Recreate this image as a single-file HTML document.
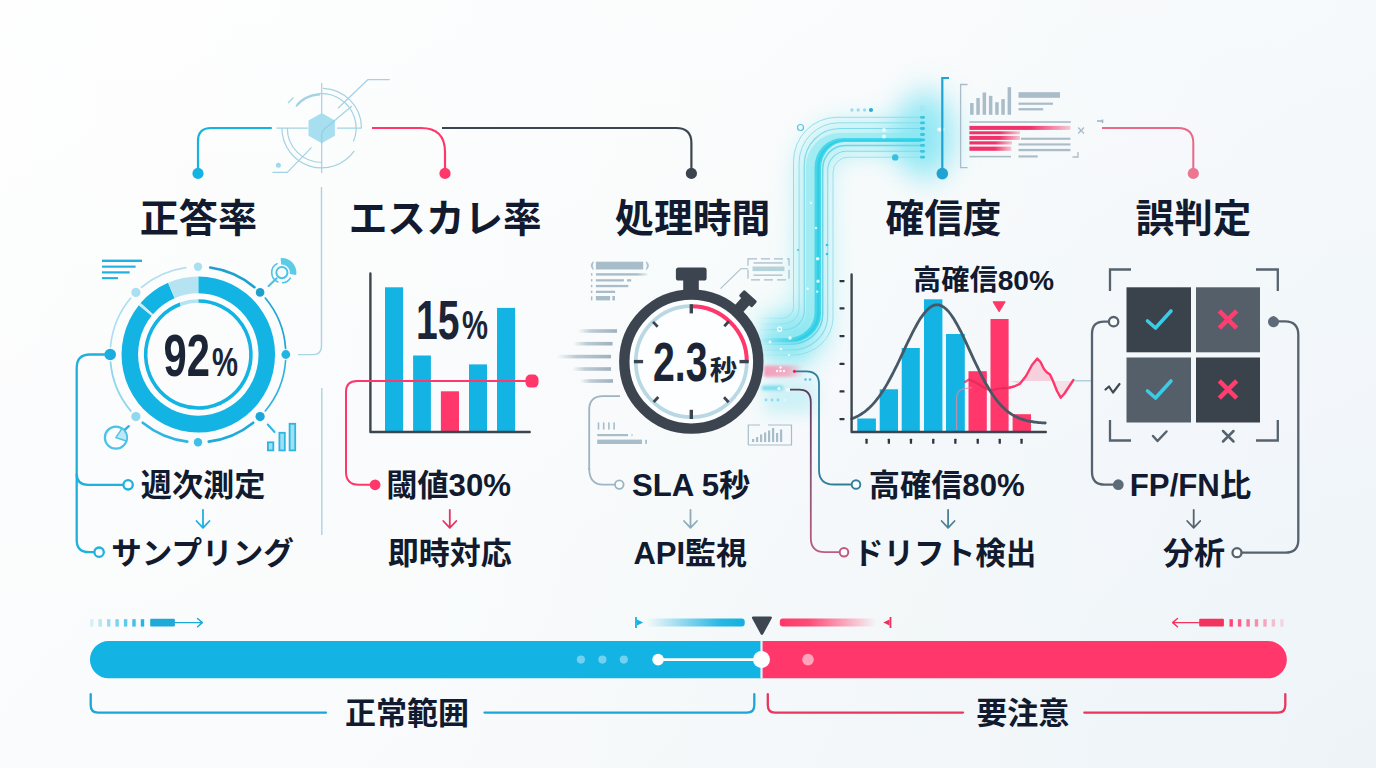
<!DOCTYPE html>
<html lang="ja"><head><meta charset="utf-8"><title>AI品質指標</title>
<style>
html,body{margin:0;padding:0;background:#f6f8fa;}
body{width:1376px;height:768px;overflow:hidden;font-family:"Liberation Sans","Noto Sans CJK JP",sans-serif;}
svg{display:block;}
text{font-family:"Liberation Sans","Noto Sans CJK JP",sans-serif;font-weight:bold;}
</style></head><body>
<svg width="1376" height="768" viewBox="0 0 1376 768">
<defs>
<linearGradient id="bg" gradientUnits="userSpaceOnUse" x1="0" y1="0" x2="1376" y2="0"><stop offset="0" stop-color="#fefefe"/><stop offset="0.3" stop-color="#fcfdfd"/><stop offset="1" stop-color="#f7fafc"/></linearGradient>
<linearGradient id="bg2" gradientUnits="userSpaceOnUse" x1="0" y1="0" x2="0" y2="768"><stop offset="0" stop-color="#c3d7e6" stop-opacity="0"/><stop offset="1" stop-color="#c3d7e6" stop-opacity="0.07"/></linearGradient>
<radialGradient id="bg3" gradientUnits="userSpaceOnUse" cx="1376" cy="768" r="950"><stop offset="0" stop-color="#c8dce8" stop-opacity="0.14"/><stop offset="1" stop-color="#c8dce8" stop-opacity="0"/></radialGradient>
<filter id="b4" x="-50%" y="-50%" width="200%" height="200%"><feGaussianBlur stdDeviation="4"/></filter>
<filter id="b8" x="-50%" y="-50%" width="200%" height="200%"><feGaussianBlur stdDeviation="8"/></filter>
<filter id="b14" x="-50%" y="-50%" width="200%" height="200%"><feGaussianBlur stdDeviation="14"/></filter>
<filter id="b1" x="-100%" y="-100%" width="300%" height="300%"><feGaussianBlur stdDeviation="0.6"/></filter>
<filter id="b2" x="-50%" y="-50%" width="200%" height="200%"><feGaussianBlur stdDeviation="1.5"/></filter>
<linearGradient id="gcy" x1="0" x2="1"><stop offset="0" stop-color="#13b0e0" stop-opacity="0"/><stop offset="0.75" stop-color="#13b0e0" stop-opacity="0.9"/><stop offset="1" stop-color="#13b0e0"/></linearGradient>
<linearGradient id="gpk" x1="0" x2="1"><stop offset="0" stop-color="#ff3868"/><stop offset="0.3" stop-color="#ff3868" stop-opacity="0.9"/><stop offset="1" stop-color="#ff3868" stop-opacity="0"/></linearGradient>
<linearGradient id="gsp" x1="0" x2="1"><stop offset="0" stop-color="#a3b6c2" stop-opacity="0"/><stop offset="0.35" stop-color="#a3b6c2" stop-opacity="0.7"/><stop offset="1" stop-color="#9db1be"/></linearGradient>
<linearGradient id="gpk2" x1="0" x2="1"><stop offset="0" stop-color="#f0326a"/><stop offset="0.6" stop-color="#f0326a"/><stop offset="1" stop-color="#f0326a" stop-opacity="0.25"/></linearGradient>
<linearGradient id="gpur" x1="0" y1="0" x2="0" y2="1"><stop offset="0" stop-color="#5b3a5e"/><stop offset="0.55" stop-color="#8a5878"/><stop offset="1" stop-color="#bf5a80"/></linearGradient>
<linearGradient id="gmask" gradientUnits="userSpaceOnUse" x1="758" y1="0" x2="800" y2="0"><stop offset="0" stop-color="#000"/><stop offset="1" stop-color="#000" stop-opacity="0"/></linearGradient>
</defs>
<rect width="1376" height="768" fill="url(#bg)"/><rect width="1376" height="768" fill="url(#bg2)"/><rect width="1376" height="768" fill="url(#bg3)"/>
<g id="flow">
<g filter="url(#b14)" opacity="0.55">
<path d="M775 338H795Q813 338 813 320V175Q813 138 850 138H925" stroke="#5fe3ee" stroke-width="26" fill="none" />
</g>
<ellipse cx="925" cy="135" rx="30" ry="45" fill="#4fdcf0" opacity="0.55" filter="url(#b14)"/>
<ellipse cx="790" cy="338" rx="30" ry="28" fill="#6fe3f2" opacity="0.5" filter="url(#b14)"/>
<rect x="764" y="320" width="40" height="42" fill="#7fe3ee" opacity="0.4" filter="url(#b8)"/>
<rect x="764" y="380" width="52" height="34" fill="#8fe6f0" opacity="0.4" filter="url(#b8)"/>
<mask id="mflow" maskUnits="userSpaceOnUse" x="740" y="90" width="220" height="300"><rect x="740" y="90" width="220" height="300" fill="#fff"/><rect x="740" y="300" width="62" height="70" fill="url(#gmask)"/></mask>
<g mask="url(#mflow)">
<path d="M752 334.0H785.3A20.7 22.3 0 0 0 806.0 311.7V165.7A34.4 32.6 0 0 1 840.4 133.1H921L921 138.0H842.8A28.3 29.0 0 0 0 814.5 167.0V312.8A26.8 25.2 0 0 1 787.7 338.0H752Z" fill="#8ee6f1" opacity="0.62"/>
<path d="M752 338.0H787.7A26.8 25.2 0 0 0 814.5 312.8V167.0A28.3 29.0 0 0 1 842.8 138.0H921L921 141.9H844.7A23.6 26.2 0 0 0 821.1 168.1V314.1A31.6 28.5 0 0 1 789.5 342.6H752Z" fill="#33d1e6" opacity="0.85"/>
<path d="M752 339.8H788.4A28.6 26.5 0 0 0 817.0 313.3V167.5A26.5 27.7 0 0 1 843.5 139.8H921L921 141.1H844.2A24.7 26.7 0 0 0 819.5 167.9V313.8A30.4 27.8 0 0 1 789.1 341.6H752Z" fill="#1fc8e2" opacity="0.55"/>
<path d="M752 318.3H781.8A11.7 11.0 0 0 0 793.5 307.3V161.5A43.4 44.2 0 0 1 836.9 117.3H921" stroke="#86d9e8" stroke-width="1" fill="none" opacity="0.85"/>
<path d="M752 324.0H783.3A15.8 15.1 0 0 0 799.1 308.9V162.9A39.4 40.1 0 0 1 838.5 122.8H921" stroke="#86d9e8" stroke-width="1" fill="none" opacity="0.85"/>
<path d="M752 329.7H784.8A19.5 19.2 0 0 0 804.3 310.5V164.5A35.7 36.0 0 0 1 840.0 128.5H921" stroke="#7ad6e8" stroke-width="1.2" fill="none" opacity="0.9"/>
<path d="M752 344.3H790.0A32.7 29.7 0 0 0 822.7 314.6V169.0A22.4 23.6 0 0 1 845.1 145.4H921" stroke="#5fd0e6" stroke-width="1.5" fill="none" opacity="0.85"/>
<path d="M752 350.0H791.4A36.3 33.8 0 0 0 827.7 316.2V170.6A18.8 19.3 0 0 1 846.5 151.3H921" stroke="#7ad6e8" stroke-width="1.1" fill="none" opacity="0.85"/>
<path d="M752 355.0H792.8A40.2 37.4 0 0 0 833.0 317.6V172.2A15.0 15.0 0 0 1 848.0 157.2H921" stroke="#8fdcea" stroke-width="1" fill="none" opacity="0.85"/>
</g>
<rect x="920.0" y="115.9" width="5.0" height="2.8" fill="#35c3de" rx="1.4" opacity="0.95"/>
<rect x="920.0" y="121.4" width="5.0" height="2.8" fill="#35c3de" rx="1.4" opacity="0.95"/>
<rect x="920.0" y="127.1" width="5.0" height="2.8" fill="#35c3de" rx="1.4" opacity="0.95"/>
<rect x="920.0" y="133.1" width="5.0" height="2.8" fill="#35c3de" rx="1.4" opacity="0.95"/>
<rect x="920.0" y="138.5" width="5.0" height="2.8" fill="#35c3de" rx="1.4" opacity="0.95"/>
<rect x="920.0" y="144.0" width="5.0" height="2.8" fill="#35c3de" rx="1.4" opacity="0.95"/>
<rect x="920.0" y="149.9" width="5.0" height="2.8" fill="#35c3de" rx="1.4" opacity="0.95"/>
<rect x="920.0" y="155.8" width="5.0" height="2.8" fill="#35c3de" rx="1.4" opacity="0.95"/>
<rect x="920.0" y="105.5" width="5.0" height="6.0" fill="#9fe3f2" rx="0" opacity="0.45"/>
<circle cx="851.9" cy="110" r="1.7" fill="#8fd6e8" stroke="none" stroke-width="0" opacity="0.85"/>
<circle cx="858.2" cy="110" r="1.7" fill="#8fd6e8" stroke="none" stroke-width="0" opacity="0.85"/>
<circle cx="864.6" cy="110" r="1.7" fill="#8fd6e8" stroke="none" stroke-width="0" opacity="0.85"/>
<circle cx="871" cy="110" r="2.1" fill="#2badd0" stroke="none" stroke-width="0" />
<circle cx="800.5" cy="127.5" r="3" fill="none" stroke="#5cc3e2" stroke-width="1.2" />
<circle cx="895.2" cy="157.4" r="3.2" fill="#35bfe0" stroke="none" stroke-width="0" />
<circle cx="884" cy="130" r="2" fill="#e8fbff" stroke="none" stroke-width="0" />
<circle cx="884" cy="136.5" r="2" fill="#e8fbff" stroke="none" stroke-width="0" />
<circle cx="827" cy="245" r="1.3" fill="#3fc0e2" stroke="none" stroke-width="0" />
<circle cx="827" cy="254" r="1.3" fill="#3fc0e2" stroke="none" stroke-width="0" />
<circle cx="798" cy="250" r="1" fill="#3fc0e2" stroke="none" stroke-width="0" />
<linearGradient id="gpb" x1="0" x2="1"><stop offset="0" stop-color="#f78fae"/><stop offset="0.6" stop-color="#f78fae" stop-opacity="0.8"/><stop offset="1" stop-color="#f78fae" stop-opacity="0"/></linearGradient>
<rect x="764.0" y="365.5" width="40.0" height="11.5" fill="url(#gpb)" rx="2" opacity="0.85" filter="url(#b2)"/>
<rect x="762.0" y="385.8" width="21.0" height="4.4" fill="#5fd5ea" rx="1" opacity="0.8" filter="url(#b2)"/>
<circle cx="777" cy="371" r="1.2" fill="#fff" stroke="none" stroke-width="0" opacity="0.9"/>
<circle cx="780.5" cy="371" r="1.2" fill="#fff" stroke="none" stroke-width="0" opacity="0.9"/>
<circle cx="784" cy="371" r="1.2" fill="#fff" stroke="none" stroke-width="0" opacity="0.9"/>
<circle cx="780.5" cy="367.5" r="1.2" fill="#fff" stroke="none" stroke-width="0" opacity="0.9"/>
<circle cx="805.5" cy="379.5" r="1.3" fill="#4fcbe6" stroke="none" stroke-width="0" />
<circle cx="810" cy="379.5" r="1.3" fill="#4fcbe6" stroke="none" stroke-width="0" />
<circle cx="766" cy="400" r="1.4" fill="#6fd8ec" stroke="none" stroke-width="0" opacity="0.8"/>
<circle cx="772" cy="400" r="1.4" fill="#6fd8ec" stroke="none" stroke-width="0" opacity="0.8"/>
<circle cx="778" cy="400" r="1.4" fill="#6fd8ec" stroke="none" stroke-width="0" opacity="0.8"/>
<circle cx="785" cy="400" r="1.8" fill="#d9f6fb" stroke="none" stroke-width="0" />
<circle cx="779" cy="388.5" r="1.6" fill="#fff" stroke="none" stroke-width="0" />
<circle cx="817.6" cy="258.8" r="1.8" fill="#ffffff" stroke="none" stroke-width="0" opacity="0.85" filter="url(#b1)"/>
<circle cx="818" cy="281.2" r="1.6" fill="#ffffff" stroke="none" stroke-width="0" opacity="0.85" filter="url(#b1)"/>
<circle cx="807.6" cy="288.8" r="1.2" fill="#ffffff" stroke="none" stroke-width="0" opacity="0.85" filter="url(#b1)"/>
<circle cx="817.2" cy="291.6" r="1.2" fill="#ffffff" stroke="none" stroke-width="0" opacity="0.85" filter="url(#b1)"/>
<circle cx="790" cy="338" r="1.7" fill="#ffffff" stroke="none" stroke-width="0" opacity="0.85" filter="url(#b1)"/>
<circle cx="770" cy="342" r="1.4" fill="#ffffff" stroke="none" stroke-width="0" opacity="0.85" filter="url(#b1)"/>
<circle cx="781" cy="349" r="1.3" fill="#ffffff" stroke="none" stroke-width="0" opacity="0.85" filter="url(#b1)"/>
<circle cx="789" cy="355" r="1.1" fill="#ffffff" stroke="none" stroke-width="0" opacity="0.85" filter="url(#b1)"/>
<circle cx="811" cy="203" r="1.2" fill="#ffffff" stroke="none" stroke-width="0" opacity="0.85" filter="url(#b1)"/>
<circle cx="816" cy="228" r="1.3" fill="#ffffff" stroke="none" stroke-width="0" opacity="0.85" filter="url(#b1)"/>
<circle cx="779.6" cy="329.2" r="2" fill="none" stroke="#ffffff" stroke-width="1.2" />
<ellipse cx="941" cy="129.6" rx="3.6" ry="2" fill="#fff" opacity="0.85" filter="url(#b1)"/>
</g>
<path d="M198 173V141Q198 128 211 128H271" stroke="#13b3e3" stroke-width="2.2" fill="none" stroke-linecap="round"/>
<circle cx="198" cy="173.4" r="5.6" fill="#13b3e3" stroke="none" stroke-width="0" />
<path d="M372 128H421Q445 128 445 152V173" stroke="#ff376a" stroke-width="2.2" fill="none" />
<circle cx="445" cy="173.4" r="5.6" fill="#ff376a" stroke="none" stroke-width="0" />
<path d="M442 128H676Q691.4 128 691.4 143V173" stroke="#3c454f" stroke-width="2.2" fill="none" />
<circle cx="691.4" cy="173.4" r="5.6" fill="#3c454f" stroke="none" stroke-width="0" />
<path d="M942.3 173V78H949" stroke="#1fa3d3" stroke-width="2.2" fill="none" />
<circle cx="942.3" cy="173.6" r="5.8" fill="#1fa3d3" stroke="none" stroke-width="0" />
<path d="M1102 128H1178Q1193.3 128 1193.3 143V173" stroke="#e8698a" stroke-width="2" fill="none" />
<circle cx="1193.3" cy="173.4" r="5.6" fill="#ee7592" stroke="none" stroke-width="0" />
<path d="M1097 121H1102M1102.5 119.5V123" stroke="#9fb3c0" stroke-width="1.6" fill="none" />
<g stroke="#9fd0e3" fill="none" stroke-width="1.2" opacity="0.95">
<path d="M296.54 104.64A34.4 34.4 0 0 1 353.37 141.54"/>
<path d="M321.70 162.50A34.4 34.4 0 0 1 287.30 128.10"/>
<path d="M323.09 88.32A39.8 39.8 0 0 1 361.50 128.10"/>
<path d="M354.30 150.93A39.8 39.8 0 0 1 281.90 128.10"/>
<path d="M295.96 106.50A33.6 33.6 0 0 1 319.94 94.55" stroke-width="1.8"/>
<path d="M321.7 83V173M276.5 128.1H308M337 128.1H361.6" />
<path d="M338 108.3L367.8 79.7H389.7M311.6 147.3L287.3 172.3H272.5M288 103L293.5 97.5"/>
<path d="M321.7 141V135Q321.7 131 325 128.5L352 106"/>
</g>
<polygon points="321.7,112.9 334.9,120.5 334.9,135.7 321.7,143.3 308.5,135.7 308.5,120.5" fill="#a8dff0"/>
<path d="M321.7 143.3V135Q321.7 131 325 128.5L334.9 120.5" stroke="#8fd0e6" stroke-width="1.2" fill="none"/>
<circle cx="278.4" cy="165.3" r="2.5" fill="#9fd8ec" stroke="none" stroke-width="0" />
<path d="M298 354.6H313Q321.5 354.6 321.5 346V187" stroke="#a9d4e4" stroke-width="1.4" fill="none" />
<line x1="321.8" y1="388" x2="321.8" y2="535" stroke="#a9d4e4" stroke-width="1.4" />
<g transform="translate(198.3 0) scale(0.984 1) translate(-198.3 0)">
<path d="M198.30 276.50A78 78 0 1 1 137.85 305.20L150.87 315.82A61.2 61.2 0 1 0 198.30 293.30Z" fill="#13b3e3" />
<path d="M139.61 303.12A78 78 0 0 1 167.57 282.81L174.19 298.25A61.2 61.2 0 0 0 152.25 314.19Z" fill="#13b3e3" />
<path d="M167.57 282.81A78 78 0 0 1 198.30 276.50L198.30 293.30A61.2 61.2 0 0 0 174.19 298.25Z" fill="#b5e3f2" />
<path d="M137.85 305.20A78 78 0 0 1 139.61 303.12L152.25 314.19A61.2 61.2 0 0 0 150.87 315.82Z" fill="#c9ecf7" />
<path d="M198.30 301.00A53.5 53.5 0 1 1 180.00 304.23" stroke="#13b3e3" stroke-width="3.6" fill="none"/>
<path d="M180.00 304.23A53.5 53.5 0 0 1 198.30 301.00" stroke="#b5e3f2" stroke-width="3.6" fill="none"/>
</g>
<path d="M210.22 267.55A87.8 87.8 0 0 1 254.44 287.24" stroke="#1e9fd0" stroke-width="2.6" fill="none" stroke-linecap="round"/>
<path d="M265.26 298.06A87.8 87.8 0 0 1 285.59 348.38" stroke="#1ea6d6" stroke-width="1.7" fill="none" stroke-linecap="round"/>
<path d="M285.59 360.62A87.8 87.8 0 0 1 265.26 410.94" stroke="#2fb3df" stroke-width="1.6" fill="none" stroke-linecap="round"/>
<path d="M253.25 422.73A87.8 87.8 0 0 1 208.70 441.65" stroke="#1eaadb" stroke-width="2.6" fill="none" stroke-linecap="round"/>
<path d="M187.30 441.65A87.8 87.8 0 0 1 142.75 422.73" stroke="#2fb5e2" stroke-width="2.6" fill="none" stroke-linecap="round"/>
<path d="M130.74 410.94A87.8 87.8 0 0 1 110.53 362.15" stroke="#8fd6ee" stroke-width="1.8" fill="none" stroke-linecap="round"/>
<path d="M110.53 346.85A87.8 87.8 0 0 1 130.74 298.06" stroke="#a8dff2" stroke-width="1.6" fill="none" stroke-linecap="round"/>
<path d="M141.56 287.24A87.8 87.8 0 0 1 185.78 267.55" stroke="#b5dfee" stroke-width="1.8" fill="none" stroke-linecap="round"/>
<circle cx="198.0" cy="266.7" r="4.2" fill="#a8e0f2" stroke="none" stroke-width="0" />
<circle cx="260.1" cy="292.4" r="4.3" fill="#1d9fd0" stroke="none" stroke-width="0" />
<circle cx="285.8" cy="354.5" r="4.4" fill="#22b4e2" stroke="none" stroke-width="0" />
<circle cx="260.1" cy="416.6" r="4.6" fill="#1aa7da" stroke="none" stroke-width="0" />
<circle cx="198.0" cy="442.3" r="4.2" fill="#3cc0e8" stroke="none" stroke-width="0" />
<circle cx="135.9" cy="416.6" r="4.6" fill="#8fd8ef" stroke="none" stroke-width="0" />
<circle cx="110.2" cy="354.5" r="5.8" fill="#18ace0" stroke="none" stroke-width="0" />
<circle cx="135.9" cy="292.4" r="4.6" fill="#a8e0f2" stroke="none" stroke-width="0" />
<rect x="102.0" y="259.6" width="40.0" height="2.4" fill="#22b0de" rx="0" />
<rect x="102.0" y="265.6" width="33.6" height="2.1" fill="#22b0de" rx="0" />
<rect x="102.0" y="271.3" width="27.7" height="2.2" fill="#22b0de" rx="0" />
<rect x="102.0" y="277.1" width="16.0" height="2.1" fill="#22b0de" rx="0" />
<circle cx="281.9" cy="272.6" r="5.6" fill="none" stroke="#4cc3e6" stroke-width="2" />
<path d="M278.41 282.18A10.2 10.2 0 0 1 277.59 263.36" stroke="#4cc3e6" stroke-width="1.6" fill="none"/>
<path d="M290.73 277.70A10.2 10.2 0 0 1 281.90 282.80" stroke="#4cc3e6" stroke-width="1.6" fill="none"/>
<path d="M280.64 258.16A14.5 14.5 0 0 1 296.18 275.12L289.78 273.99A8 8 0 0 0 281.20 264.63Z" fill="#5ccbe8" />
<line x1="276.5" y1="278.5" x2="268.6" y2="286" stroke="#4cc3e6" stroke-width="2.2" stroke-linecap="round"/>
<circle cx="115.9" cy="437.7" r="11" fill="none" stroke="#4cc3e6" stroke-width="2.3" />
<path d="M117.5 436.5L128.8 426.2" stroke="#2fb5e2" stroke-width="2.4" stroke-linecap="round"/>
<path d="M115.9 437.7L122 428.5A11 11 0 0 1 126.5 441Z" fill="#bfe8f5" stroke="#4cc3e6" stroke-width="1.4"/>
<rect x="267.9" y="442.3" width="5.4" height="8.1" fill="#9fe0f3" stroke="#2fb5e2" stroke-width="1.8"/>
<rect x="279.4" y="432.8" width="5.4" height="17.6" fill="#9fe0f3" stroke="#2fb5e2" stroke-width="1.8"/>
<rect x="289.6" y="423.8" width="5.6" height="26.6" fill="#9fe0f3" stroke="#2fb5e2" stroke-width="1.8"/>
<path d="M267.8 424.5L274.5 432" stroke="#2fb5e2" stroke-width="2" stroke-linecap="round"/>
<path d="M110 354.5H90Q76.7 354.5 76.7 368V540Q76.7 552.2 89 552.2H94" stroke="#1fb0de" stroke-width="2.3" fill="none" />
<path d="M76.7 474Q76.7 484.8 88 484.8H123" stroke="#1fb0de" stroke-width="2.3" fill="none" />
<circle cx="128.1" cy="484.8" r="4.7" fill="#fbfdfe" stroke="#1fb0de" stroke-width="2.3" />
<circle cx="99.1" cy="552.2" r="4.7" fill="#fbfdfe" stroke="#1fb0de" stroke-width="2.3" />
<rect x="385.0" y="287.3" width="18.1" height="143.7" fill="#13b3e3" rx="0" />
<rect x="413.1" y="355.5" width="17.8" height="75.5" fill="#13b3e3" rx="0" />
<rect x="440.9" y="391.3" width="18.1" height="39.7" fill="#ff376a" rx="0" />
<rect x="469.0" y="364.4" width="18.0" height="66.6" fill="#13b3e3" rx="0" />
<rect x="497.0" y="307.9" width="18.1" height="123.1" fill="#13b3e3" rx="0" />
<path d="M370.4 273.5V432H529.7" stroke="#3c454f" stroke-width="2.4" fill="none" stroke-linecap="round" stroke-linejoin="round"/>
<path d="M532 381H357Q346 381 346 392V472Q346 484.8 359 484.8H372" stroke="#ff376a" stroke-width="2" fill="none" />
<rect x="525.5" y="374.6" width="13.0" height="13.0" fill="#ff376a" rx="5" />
<circle cx="375.1" cy="484.8" r="5.4" fill="#ff376a" stroke="none" stroke-width="0" />
<rect x="578.0" y="329.2" width="39.0" height="3.6" fill="url(#gsp)" rx="0" />
<rect x="573.0" y="341.9" width="39.5" height="3.6" fill="url(#gsp)" rx="0" />
<rect x="557.0" y="354.8" width="54.0" height="3.6" fill="url(#gsp)" rx="0" />
<rect x="572.0" y="367.2" width="39.0" height="3.6" fill="url(#gsp)" rx="0" />
<rect x="580.0" y="379.2" width="33.0" height="3.6" fill="url(#gsp)" rx="0" />
<rect x="595.9" y="261.7" width="47.3" height="7.8" fill="#a8bdca" rx="0" />
<path d="M593.2 261.7Q589.2 265.6 593.2 269.5Q591.6 265.6 593.2 261.7ZM646.4 261.7Q650.4 265.6 646.4 269.5Q648.4 265.6 646.4 261.7Z" fill="#a8bdca" stroke="#a8bdca" stroke-width="0.9"/>
<linearGradient id="gl2" x1="0" x2="1"><stop offset="0" stop-color="#a8bdca"/><stop offset="0.8" stop-color="#a8bdca"/><stop offset="1" stop-color="#a8bdca" stop-opacity="0.2"/></linearGradient>
<rect x="595.9" y="273.2" width="51.5" height="2.4" fill="url(#gl2)" rx="0" />
<rect x="595.9" y="279.2" width="28.0" height="2.3" fill="#a8bdca" rx="0" />
<rect x="627.0" y="279.2" width="4.2" height="2.3" fill="#a8bdca" rx="0" />
<rect x="595.9" y="284.9" width="32.4" height="2.3" fill="#a8bdca" rx="0" />
<rect x="595.9" y="290.7" width="19.2" height="2.3" fill="#a8bdca" rx="0" />
<rect x="595.9" y="296.0" width="14.2" height="4.4" fill="#a8bdca" rx="0" />
<rect x="612.3" y="296.0" width="2.7" height="4.4" fill="#a8bdca" rx="0" />
<rect x="590.9" y="273.2" width="1.5" height="2.4" fill="#a8bdca" rx="0" />
<rect x="590.9" y="279.1" width="1.5" height="2.4" fill="#a8bdca" rx="0" />
<rect x="590.9" y="284.8" width="1.5" height="2.4" fill="#a8bdca" rx="0" />
<rect x="590.9" y="290.6" width="1.5" height="2.4" fill="#a8bdca" rx="0" />
<rect x="590.9" y="296.4" width="1.5" height="4.0" fill="#a8bdca" rx="0" />
<rect x="748" y="258.8" width="41" height="21" fill="none" stroke="#a8bdca" stroke-width="1.2" stroke-dasharray="9 4"/>
<rect x="752.5" y="266.5" width="32.0" height="4.6" fill="#b6d3dc" rx="0" />
<rect x="753.5" y="262.3" width="29.0" height="1.3" fill="#a8bdca" rx="0" />
<rect x="753.5" y="274.5" width="29.0" height="1.3" fill="#a8bdca" rx="0" />
<path d="M720.5 288.7L741 268.7H748" stroke="#a8bdca" stroke-width="1.1" fill="none" />
<path d="M589.2 470V410Q589.2 396.2 603 396.2H620" stroke="#9db4c2" stroke-width="1.8" fill="none" />
<rect x="597.7" y="422.4" width="1.6" height="7.2" fill="#a8bdca" rx="0" />
<rect x="602.9" y="422.4" width="1.6" height="7.2" fill="#a8bdca" rx="0" />
<rect x="608.1" y="422.4" width="1.6" height="7.2" fill="#a8bdca" rx="0" />
<rect x="613.3" y="422.4" width="1.6" height="7.2" fill="#a8bdca" rx="0" />
<rect x="597.2" y="434.0" width="30.8" height="2.2" fill="#a8bdca" rx="0" />
<rect x="631.2" y="434.0" width="1.6" height="2.2" fill="#a8bdca" rx="0" opacity="0.6"/>
<rect x="597.2" y="439.6" width="44.8" height="4.4" fill="#a8bdca" rx="0" />
<rect x="645.2" y="439.8" width="1.8" height="4.0" fill="#a8bdca" rx="0" />
<path d="M748.3 445V425H760M768 425H791.5V445H748.3" fill="none" stroke="#a8bdca" stroke-width="1.2"/>
<rect x="752.0" y="439.0" width="2.2" height="3.0" fill="#a8bdca" rx="0" />
<rect x="756.0" y="437.0" width="2.2" height="5.0" fill="#a8bdca" rx="0" />
<rect x="760.0" y="434.5" width="2.2" height="7.5" fill="#a8bdca" rx="0" />
<rect x="764.0" y="432.5" width="2.2" height="9.5" fill="#a8bdca" rx="0" />
<rect x="768.0" y="430.5" width="2.2" height="11.5" fill="#a8bdca" rx="0" />
<rect x="772.0" y="428.0" width="2.2" height="14.0" fill="#a8bdca" rx="0" />
<rect x="776.0" y="433.0" width="2.2" height="9.0" fill="#a8bdca" rx="0" />
<rect x="780.0" y="429.5" width="2.2" height="12.5" fill="#a8bdca" rx="0" />
<circle cx="691.3" cy="361.65" r="61.5" fill="#fdfeff" stroke="none" stroke-width="0" />
<circle cx="691.3" cy="361.65" r="67" fill="none" stroke="#3c454f" stroke-width="10.4" />
<rect x="675.9" y="267.6" width="30.7" height="13.0" fill="#3c454f" rx="2.6" />
<rect x="683.2" y="276.0" width="15.6" height="16.0" fill="#3c454f" rx="0" />
<g transform="rotate(42 691.3 361.65)"><rect x="682.40" y="272.85" width="17.8" height="8.2" rx="1.6" fill="#3c454f"/><rect x="685.90" y="279.65" width="10.8" height="12" fill="#3c454f"/></g>
<path d="M746.80 361.65A55.5 55.5 0 1 1 691.30 306.15" stroke="#b9d8e3" stroke-width="3.7" fill="none"/>
<path d="M691.30 306.15A55.5 55.5 0 0 1 746.80 361.65" stroke="#ff376a" stroke-width="4" fill="none"/>
<line x1="691.3" y1="313.4" x2="691.3" y2="304.2" stroke="#3c454f" stroke-width="3.4" stroke-linecap="butt"/>
<line x1="724.3" y1="326.3" x2="728.9" y2="321.3" stroke="#3c454f" stroke-width="2.8" stroke-linecap="butt"/>
<line x1="739.5" y1="361.6" x2="748.7" y2="361.6" stroke="#3c454f" stroke-width="3.4" stroke-linecap="butt"/>
<line x1="724.0" y1="397.3" x2="728.6" y2="402.3" stroke="#3c454f" stroke-width="2.8" stroke-linecap="butt"/>
<line x1="691.3" y1="409.8" x2="691.3" y2="419.0" stroke="#3c454f" stroke-width="3.4" stroke-linecap="butt"/>
<line x1="658.3" y1="397.0" x2="653.7" y2="402.0" stroke="#3c454f" stroke-width="2.8" stroke-linecap="butt"/>
<line x1="643.1" y1="361.6" x2="633.9" y2="361.6" stroke="#3c454f" stroke-width="3.4" stroke-linecap="butt"/>
<line x1="657.7" y1="326.8" x2="653.0" y2="321.9" stroke="#3c454f" stroke-width="2.8" stroke-linecap="butt"/>
<circle cx="619.3" cy="484.6" r="4.3" fill="#fbfdfe" stroke="#9ab5c2" stroke-width="1.8" />
<path d="M589.2 468Q589.2 484.6 603 484.6H615" stroke="#9db7c4" stroke-width="1.8" fill="none" />
<path d="M796 371.3H806Q819 371.3 819 384V470Q819 484.5 834 484.5H851" stroke="#2f7f9c" stroke-width="1.8" fill="none" />
<circle cx="794.5" cy="371.3" r="1.6" fill="#d03050" stroke="none" stroke-width="0" />
<path d="M789 389.6H799Q810.8 389.6 810.8 402V538Q810.8 552.2 825 552.2H839" stroke="url(#gpur)" stroke-width="1.8" fill="none" />
<rect x="786.0" y="388.0" width="4.0" height="3.4" fill="#eafaff" rx="0" />
<circle cx="856" cy="484.5" r="4.3" fill="#fbfdfe" stroke="#2f7f9c" stroke-width="1.9" />
<circle cx="844" cy="552.2" r="4.3" fill="#fbfdfe" stroke="#c2587c" stroke-width="2" />
<rect x="857.3" y="418.5" width="18.6" height="12.5" fill="#13b3e3" rx="0" />
<rect x="879.7" y="389.3" width="18.3" height="41.7" fill="#13b3e3" rx="0" />
<rect x="901.7" y="348.0" width="18.1" height="83.0" fill="#13b3e3" rx="0" />
<rect x="924.0" y="299.3" width="18.4" height="131.7" fill="#13b3e3" rx="0" />
<rect x="946.0" y="334.0" width="18.8" height="97.0" fill="#13b3e3" rx="0" />
<rect x="968.5" y="371.2" width="18.3" height="59.8" fill="#ff376a" rx="0" />
<rect x="990.5" y="319.0" width="18.1" height="112.0" fill="#ff376a" rx="0" />
<rect x="1012.6" y="414.2" width="18.4" height="16.8" fill="#ff376a" rx="0" />
<path d="M1010 381L1019.7 384L1026 376L1032 365L1037.3 358.6L1044.1 369.3L1050 374.5L1052.5 381Z" fill="#ff3868" opacity="0.2"/>
<path d="M1052.5 381L1057 391L1060.7 397.7L1064.5 393.5L1072 381Z" fill="#ff3868" opacity="0.12"/>
<path d="M965 382L969 379.5L975 382L983 387L990.4 390.8L999 388.5L1008 387.9L1012 387" stroke="#dd2a59" stroke-width="2.2" fill="none" stroke-linejoin="round" stroke-linecap="round" opacity="0.75"/>
<path d="M1008.6 387.8L1014 386.5L1019.7 384L1026 376L1032 365L1037.3 358.6L1040.5 362L1044.1 369.3L1047 372.5L1050 374.5L1053 381L1057 391L1060.7 397.7L1064.5 393.5L1073.4 380" stroke="#ff376a" stroke-width="2.4" fill="none" stroke-linejoin="round" stroke-linecap="round"/>
<line x1="1074" y1="380.8" x2="1092" y2="380.8" stroke="#9fc6d6" stroke-width="1.2" />
<path d="M956.6 430V398Q956.6 389.5 965 388.6L972 387.5" stroke="#e58aa2" stroke-width="1.2" fill="none" opacity="0.8"/>
<path d="M851.7 418.8 L853.3 418.1 L854.9 417.5 L856.5 416.7 L858.2 415.9 L859.8 415.0 L861.4 414.0 L863.0 412.9 L864.6 411.8 L866.2 410.5 L867.8 409.1 L869.4 407.7 L871.1 406.1 L872.7 404.4 L874.3 402.6 L875.9 400.7 L877.5 398.6 L879.1 396.5 L880.7 394.2 L882.3 391.8 L884.0 389.3 L885.6 386.6 L887.2 383.9 L888.8 381.0 L890.4 378.0 L892.0 375.0 L893.6 371.9 L895.2 368.6 L896.9 365.3 L898.5 362.0 L900.1 358.6 L901.7 355.2 L903.3 351.8 L904.9 348.3 L906.5 344.9 L908.1 341.5 L909.8 338.2 L911.4 334.9 L913.0 331.7 L914.6 328.6 L916.2 325.7 L917.8 322.8 L919.4 320.1 L921.0 317.6 L922.7 315.3 L924.3 313.2 L925.9 311.3 L927.5 309.6 L929.1 308.2 L930.7 307.0 L932.3 306.0 L933.9 305.4 L935.6 304.9 L937.2 304.8 L938.8 304.9 L940.4 305.4 L942.0 306.1 L943.6 307.0 L945.2 308.3 L946.8 309.8 L948.5 311.5 L950.1 313.5 L951.7 315.7 L953.3 318.1 L954.9 320.7 L956.5 323.5 L958.1 326.4 L959.7 329.5 L961.4 332.7 L963.0 336.0 L964.6 339.4 L966.2 342.8 L967.8 346.3 L969.4 349.8 L971.0 353.3 L972.6 356.9 L974.2 360.3 L975.9 363.8 L977.5 367.2 L979.1 370.5 L980.7 373.8 L982.3 376.9 L983.9 380.0 L985.5 383.0 L987.2 385.8 L988.8 388.6 L990.4 391.2 L992.0 393.7 L993.6 396.0 L995.2 398.3 L996.8 400.4 L998.4 402.4 L1000.1 404.2 L1001.7 406.0 L1003.3 407.6 L1004.9 409.1 L1006.5 410.5 L1008.1 411.8 L1009.7 413.0 L1011.3 414.1 L1013.0 415.1 L1014.6 416.0 L1016.2 416.8 L1017.8 417.6 L1019.4 418.3 L1021.0 418.9 L1022.6 419.4 L1024.2 419.9 L1025.9 420.4 L1027.5 420.8 L1029.1 421.1 L1030.7 421.5 L1032.3 421.7 L1033.9 422.0 L1035.5 422.2 L1037.1 422.4 L1038.8 422.6 L1040.4 422.7 L1042.0 422.8 L1043.6 422.9 L1045.2 423.0" stroke="#475866" stroke-width="2.8" fill="none" stroke-linecap="round" stroke-linejoin="round"/>
<path d="M851.6 274.5V432H1045.8" stroke="#3c454f" stroke-width="2.4" fill="none" stroke-linecap="round" stroke-linejoin="round"/>
<rect x="839.5" y="280.0" width="5.0" height="2.2" fill="#2c3540" rx="0.6" />
<rect x="839.5" y="307.2" width="5.0" height="2.2" fill="#2c3540" rx="0.6" />
<rect x="839.5" y="335.0" width="5.0" height="2.2" fill="#2c3540" rx="0.6" />
<rect x="839.5" y="362.8" width="5.0" height="2.2" fill="#2c3540" rx="0.6" />
<rect x="839.5" y="390.3" width="5.0" height="2.2" fill="#2c3540" rx="0.6" />
<rect x="839.5" y="418.0" width="5.0" height="2.2" fill="#2c3540" rx="0.6" />
<rect x="865.4" y="438.8" width="2.3" height="5.0" fill="#2c3540" rx="0.5" />
<rect x="887.7" y="438.8" width="2.3" height="5.0" fill="#2c3540" rx="0.5" />
<rect x="909.8" y="438.8" width="2.3" height="5.0" fill="#2c3540" rx="0.5" />
<rect x="932.1" y="438.8" width="2.3" height="5.0" fill="#2c3540" rx="0.5" />
<rect x="954.2" y="438.8" width="2.3" height="5.0" fill="#2c3540" rx="0.5" />
<rect x="976.6" y="438.8" width="2.3" height="5.0" fill="#2c3540" rx="0.5" />
<rect x="998.6" y="438.8" width="2.3" height="5.0" fill="#2c3540" rx="0.5" />
<rect x="1020.4" y="438.8" width="2.3" height="5.0" fill="#2c3540" rx="0.5" />
<path d="M993 301.8H1005.2L999.1 311.8Z" fill="#ff3868" stroke="#ff3868" stroke-width="1" stroke-linejoin="round"/>
<rect x="1126.5" y="287.3" width="64.5" height="65.0" fill="#3a424b" rx="0" />
<rect x="1196.0" y="287.3" width="64.0" height="65.0" fill="#545f6a" rx="0" />
<rect x="1126.5" y="357.5" width="64.5" height="65.0" fill="#545f6a" rx="0" />
<rect x="1196.0" y="357.5" width="64.0" height="65.0" fill="#3a424b" rx="0" />
<path d="M1147.5 321.0L1155.5 328.0L1171 311.0" stroke="#3ccbe6" stroke-width="3.6" fill="none" stroke-linecap="round" stroke-linejoin="round"/>
<path d="M1219.3 310.8L1236.7 328.2M1236.7 310.8L1219.3 328.2" stroke="#ff3d6e" stroke-width="4.6" fill="none" stroke-linecap="butt"/>
<path d="M1147.5 391.0L1155.5 398.0L1171 381.0" stroke="#3ccbe6" stroke-width="3.6" fill="none" stroke-linecap="round" stroke-linejoin="round"/>
<path d="M1219.3 380.8L1236.7 398.2M1236.7 380.8L1219.3 398.2" stroke="#ff3d6e" stroke-width="4.6" fill="none" stroke-linecap="butt"/>
<path d="M1131 269.5H1110V291M1256 269.5H1277.8V291M1110 420V440.5H1131M1277.8 420V440.5H1256" stroke="#56636e" stroke-width="2.3" fill="none" />
<path d="M1153 436L1157.5 441L1166.5 431.5" stroke="#56636e" stroke-width="2.5" fill="none" stroke-linecap="round" stroke-linejoin="round"/>
<path d="M1223 431L1233.5 441.5M1233.5 431L1223 441.5" stroke="#56636e" stroke-width="2.5" fill="none" stroke-linecap="round"/>
<path d="M1105.5 389.5L1109 386.5L1113 392.5L1119.5 384" stroke="#3f4953" stroke-width="2.2" fill="none" stroke-linecap="round" stroke-linejoin="round"/>
<path d="M1108.5 321.7H1104Q1092 321.7 1092 334V472Q1092 484.7 1105 484.7H1114" stroke="#56636f" stroke-width="2.3" fill="none" />
<circle cx="1113.6" cy="321.7" r="4.7" fill="#fbfdfe" stroke="#56636f" stroke-width="2.3" />
<circle cx="1118.3" cy="484.7" r="5.4" fill="#5d6b78" stroke="none" stroke-width="0" />
<path d="M1276 321.3H1285Q1298.3 321.3 1298.3 335V540Q1298.3 552.7 1285 552.7H1242" stroke="#56636f" stroke-width="2.3" fill="none" />
<path d="M1279 321.3A5.5 5.5 0 1 1 1272 316.5Q1274 315 1276.5 317.5Q1279 319 1279 321.3Z" fill="#5d6b78"/>
<circle cx="1237" cy="552.7" r="4.5" fill="#fbfdfe" stroke="#56636f" stroke-width="2.3" />
<path d="M203 509.8V527.5M196.5 521L203 527.8L209.5 521" stroke="#22aee0" stroke-width="1.8" fill="none" stroke-linecap="round" stroke-linejoin="round"/>
<path d="M449.8 509.8V527.5M443.3 521L449.8 527.8L456.3 521" stroke="#e8335f" stroke-width="1.8" fill="none" stroke-linecap="round" stroke-linejoin="round"/>
<path d="M690.5 509.8V527.5M684.0 521L690.5 527.8L697.0 521" stroke="#8fabb9" stroke-width="1.8" fill="none" stroke-linecap="round" stroke-linejoin="round"/>
<path d="M948.1 509.8V527.5M941.6 521L948.1 527.8L954.6 521" stroke="#4d8195" stroke-width="1.8" fill="none" stroke-linecap="round" stroke-linejoin="round"/>
<path d="M1193.7 509.8V527.5M1187.2 521L1193.7 527.8L1200.2 521" stroke="#56636e" stroke-width="1.8" fill="none" stroke-linecap="round" stroke-linejoin="round"/>
<path d="M108.6 641H761.5V678.3H108.6A18.65 18.65 0 0 1 108.6 641Z" fill="#13b3e3"/>
<path d="M761.5 641H1268.2A18.65 18.65 0 0 1 1268.2 678.3H761.5Z" fill="#ff376a"/>
<line x1="761.5" y1="641" x2="761.5" y2="678.3" stroke="#e8f4f9" stroke-width="2.2" />
<circle cx="580.9" cy="659.6" r="4.1" fill="#fff" stroke="none" stroke-width="0" opacity="0.4"/>
<circle cx="602.4" cy="659.6" r="4.1" fill="#fff" stroke="none" stroke-width="0" opacity="0.4"/>
<circle cx="623.8" cy="659.6" r="4.1" fill="#fff" stroke="none" stroke-width="0" opacity="0.4"/>
<circle cx="808" cy="659.6" r="5.8" fill="#fff" stroke="none" stroke-width="0" opacity="0.55"/>
<line x1="658" y1="659.6" x2="761" y2="659.6" stroke="#fff" stroke-width="2.6" />
<circle cx="658.1" cy="659.6" r="5.8" fill="#fff" stroke="none" stroke-width="0" />
<circle cx="761.5" cy="659.6" r="8.5" fill="#fdfeff" stroke="none" stroke-width="0" />
<path d="M753.5 616.6H770.3Q772.8 616.6 771.5 618.8L763.2 634Q761.9 636 760.6 634L752.3 618.8Q751 616.6 753.5 616.6Z" fill="#3d4651"/>
<rect x="646.3" y="618.4" width="98.4" height="8.2" fill="url(#gcy)" rx="3" />
<rect x="779.8" y="618.4" width="97.0" height="8.2" fill="url(#gpk)" rx="3" />
<path d="M636 617V628" stroke="#13b3e3" stroke-width="1.8" fill="none" />
<path d="M637 619.5L643.2 622.5L637 625.5Z" fill="#13b3e3"/>
<path d="M890.5 617V628" stroke="#e8335f" stroke-width="1.8" fill="none" />
<path d="M889.5 619.5L883.3 622.5L889.5 625.5Z" fill="#e8335f"/>
<rect x="90.1" y="619.2" width="3.4" height="7.4" fill="#13b3e3" rx="0" opacity="0.16"/>
<rect x="98.5" y="619.2" width="3.4" height="7.4" fill="#13b3e3" rx="0" opacity="0.29"/>
<rect x="107.0" y="619.2" width="3.4" height="7.4" fill="#13b3e3" rx="0" opacity="0.42"/>
<rect x="115.4" y="619.2" width="3.4" height="7.4" fill="#13b3e3" rx="0" opacity="0.55"/>
<rect x="123.9" y="619.2" width="3.4" height="7.4" fill="#13b3e3" rx="0" opacity="0.68"/>
<rect x="132.3" y="619.2" width="3.4" height="7.4" fill="#13b3e3" rx="0" opacity="0.81"/>
<rect x="140.8" y="619.2" width="3.4" height="7.4" fill="#13b3e3" rx="0" opacity="0.94"/>
<rect x="150.2" y="618.8" width="24.7" height="7.8" fill="#1eaad9" rx="1" />
<path d="M175 622.6H202M197.5 618.5L202.4 622.6L197.5 626.7" stroke="#1aa6d6" stroke-width="1.4" fill="none" stroke-linecap="round" stroke-linejoin="round"/>
<rect x="1280.2" y="619.2" width="3.4" height="7.4" fill="#ff376a" rx="0" opacity="0.16"/>
<rect x="1271.7" y="619.2" width="3.4" height="7.4" fill="#ff376a" rx="0" opacity="0.29"/>
<rect x="1263.3" y="619.2" width="3.4" height="7.4" fill="#ff376a" rx="0" opacity="0.42"/>
<rect x="1254.8" y="619.2" width="3.4" height="7.4" fill="#ff376a" rx="0" opacity="0.55"/>
<rect x="1246.4" y="619.2" width="3.4" height="7.4" fill="#ff376a" rx="0" opacity="0.68"/>
<rect x="1237.9" y="619.2" width="3.4" height="7.4" fill="#ff376a" rx="0" opacity="0.81"/>
<rect x="1229.5" y="619.2" width="3.4" height="7.4" fill="#ff376a" rx="0" opacity="0.94"/>
<rect x="1199.2" y="618.8" width="24.7" height="7.8" fill="#f2335f" rx="1" />
<path d="M1199.4 622.6H1173M1177.5 618.5L1172.6 622.6L1177.5 626.7" stroke="#f2335f" stroke-width="1.4" fill="none" stroke-linecap="round" stroke-linejoin="round"/>
<path d="M90.7 694.2V705Q90.7 712.6 98 712.6H326M484.5 712.6H747Q754.3 712.6 754.3 705V694.2" stroke="#1aa6d6" stroke-width="2.3" fill="none" stroke-linecap="round"/>
<path d="M767.8 694.2V705Q767.8 712.6 775 712.6H963M1084.3 712.6H1278Q1285.3 712.6 1285.3 705V694.2" stroke="#e8365f" stroke-width="2.3" fill="none" stroke-linecap="round"/>
<path d="M967.5 84.5H960.6V167.6H967.5" stroke="#a9bcc8" stroke-width="1.3" fill="none" />
<rect x="970.1" y="103.0" width="3.5" height="11.8" fill="#a9bcc8" rx="0" />
<rect x="976.3" y="98.0" width="3.5" height="16.8" fill="#a9bcc8" rx="0" />
<rect x="982.6" y="92.5" width="3.5" height="22.3" fill="#a9bcc8" rx="0" />
<rect x="988.9" y="95.8" width="3.5" height="19.0" fill="#a9bcc8" rx="0" />
<rect x="995.2" y="102.2" width="3.5" height="12.6" fill="#a9bcc8" rx="0" />
<rect x="1001.3" y="99.1" width="3.5" height="15.7" fill="#a9bcc8" rx="0" />
<rect x="1007.6" y="87.2" width="3.5" height="27.6" fill="#a9bcc8" rx="0" />
<rect x="1018.5" y="92.2" width="41.5" height="5.6" fill="#a9bcc8" rx="0" />
<rect x="1018.5" y="102.6" width="34.5" height="2.2" fill="#a9bcc8" rx="0" />
<rect x="1018.5" y="108.1" width="24.7" height="2.3" fill="#a9bcc8" rx="0" />
<rect x="969.4" y="121.2" width="101.4" height="1.6" fill="#a9bcc8" rx="0" />
<rect x="969.4" y="125.9" width="101.0" height="4.0" fill="url(#gpk2)" rx="0" />
<rect x="969.4" y="131.3" width="50.6" height="3.0" fill="url(#gpk2)" rx="0" />
<rect x="969.4" y="135.9" width="50.6" height="4.0" fill="url(#gpk2)" rx="0" />
<rect x="969.4" y="141.3" width="42.6" height="3.2" fill="url(#gpk2)" rx="0" />
<rect x="969.4" y="146.6" width="42.0" height="4.2" fill="url(#gpk2)" rx="0" />
<rect x="1021.0" y="137.7" width="49.4" height="2.1" fill="#a9bcc8" rx="0" />
<rect x="1018.5" y="143.4" width="51.9" height="2.1" fill="#a9bcc8" rx="0" />
<rect x="1018.5" y="148.9" width="51.9" height="2.3" fill="#a9bcc8" rx="0" />
<rect x="969.4" y="155.8" width="41.6" height="1.6" fill="#a9bcc8" rx="0" />
<rect x="1018.5" y="155.4" width="19.2" height="2.1" fill="#a9bcc8" rx="0" />
<path d="M1078.2 127.5L1084 133.5M1084 127.5L1078.2 133.5" stroke="#a9bcc8" stroke-width="1.3" fill="none" />
<path d="M1072.5 157H1078V152" stroke="#a9bcc8" stroke-width="1.3" fill="none" />
<g fill="#111a2e">
<text x="139.7" y="232.0" font-size="39.2">正答率</text>
<text x="348.8" y="232.0" font-size="38.6">エスカレ率</text>
<text x="615.1" y="232.0" font-size="38.8">処理時間</text>
<text x="885.6" y="232.0" font-size="38.6">確信度</text>
<text x="1135.6" y="232.0" font-size="38.6">誤判定</text>
<text x="163.5" y="375.6" font-size="59" fill="#1c2536" textLength="46.5" lengthAdjust="spacingAndGlyphs">92</text>
<text x="212" y="375.8" font-size="41" fill="#1c2536" textLength="26" lengthAdjust="spacingAndGlyphs">%</text>
<text x="416" y="339.0" font-size="55" fill="#1c2536" textLength="43.5" lengthAdjust="spacingAndGlyphs">15</text>
<text x="462" y="339.4" font-size="41" fill="#1c2536" textLength="26" lengthAdjust="spacingAndGlyphs">%</text>
<text x="709.8" y="380.3" font-size="27.4" fill="#1c2536">秒</text>
<text x="653.0" y="381.2" font-size="55" fill="#1c2536" textLength="54.5" lengthAdjust="spacingAndGlyphs">2.3</text>
<text x="913.1" y="290.4" font-size="28.2">高確信80%</text>
<text x="140.7" y="496.2" font-size="31.2">週次測定</text>
<text x="386.2" y="496.2" font-size="31.2">閾値30%</text>
<text x="631.9" y="496.2" font-size="31.2">SLA 5秒</text>
<text x="868.8" y="496.2" font-size="31.2">高確信80%</text>
<text x="1129.8" y="496.2" font-size="31.2">FP/FN比</text>
<text x="111.2" y="563.5" font-size="30.6">サンプリング</text>
<text x="387.7" y="563.5" font-size="31.0">即時対応</text>
<text x="633.4" y="563.5" font-size="31.0">API監視</text>
<text x="852.9" y="563.5" font-size="30.6">ドリフト検出</text>
<text x="1163.1" y="563.5" font-size="31.0">分析</text>
<text x="344.9" y="724.3" font-size="31.0">正常範囲</text>
<text x="976.2" y="724.3" font-size="31.0">要注意</text>
</g>
</svg>
</body></html>
